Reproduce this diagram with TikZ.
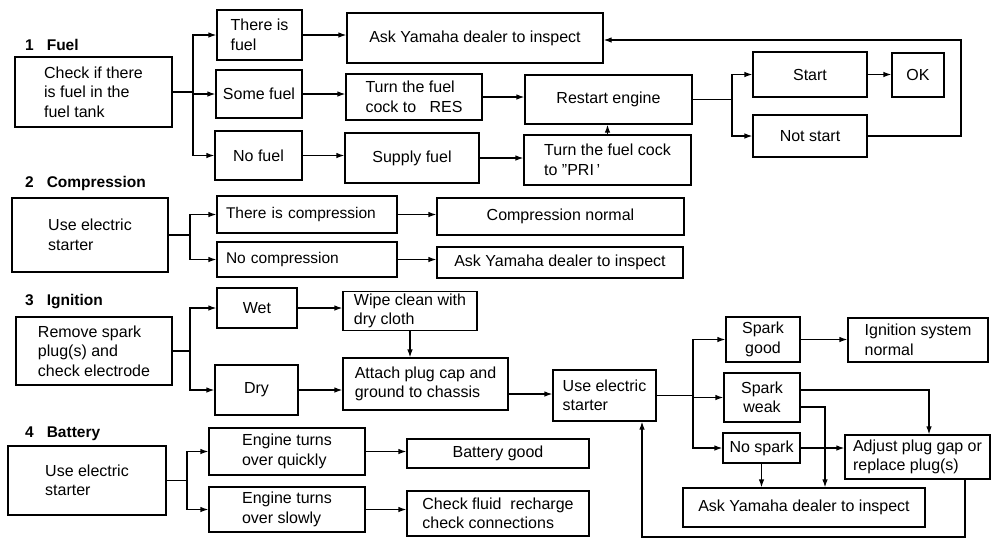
\documentclass[tikz,border=0pt]{standalone}
\usepackage{fontspec}
\setmainfont{Liberation Sans}
\usetikzlibrary{arrows.meta}
\tikzset{
  box/.style={draw, line width=1.2pt, inner sep=2pt, align=center, font=\fontsize{16}{19.5}\selectfont},
  con/.style={line width=1.2pt},
  arr/.style={line width=1.2pt, -{Latex[length=8pt,width=5.5pt]}},
  sec/.style={anchor=base west, inner sep=0pt, font=\bfseries\fontsize{15.5}{18}\selectfont},
  lbox/.style={text width=162pt, align=left, font=\fontsize{15.5}{19}\selectfont},
}
\newcommand\bx[7]{\node[box, minimum width={#4-#2}, minimum height={#5-#3}, #6] (#1) at ({(#2+#4)/2},{(#3+#5)/2}) {#7};}
\begin{document}
\begin{tikzpicture}[x=1pt,y=-1pt]
\useasboundingbox[fill=white] (0,0) rectangle (1000,542);

% section labels
\node[sec] (l1) at (25,50) {1\hspace{13pt}Fuel};
\node[sec] (l2) at (25,187) {2\hspace{13pt}Compression};
\node[sec] (l3) at (25,305) {3\hspace{13pt}Ignition};
\node[sec] (l4) at (25,437) {4\hspace{13pt}Battery};

% 1 Fuel
\bx{fuel}{15}{57}{172}{127}{align=left}{Check if there\\is fuel in the\\fuel tank}
\bx{thereis}{217}{10}{302}{60}{align=left}{There is\\fuel}
\bx{some}{216}{70}{302}{118}{}{Some fuel}
\bx{nofuel}{215}{131}{302}{180}{}{No fuel}
\bx{ask1}{347}{13}{603}{63}{}{Ask Yamaha dealer to inspect}
\bx{res}{346}{74}{482}{120}{align=left}{Turn the fuel\\cock to \ \ RES}
\bx{restart}{525}{75}{692}{124}{}{Restart engine}
\bx{supply}{345}{133}{479}{183}{}{Supply fuel}
\bx{pri}{524}{135}{691}{185}{align=left}{Turn the fuel cock\\to ''PRI\,'}
\bx{start}{753}{52}{867}{97}{}{Start}
\bx{ok}{892}{53}{944}{97}{}{OK}
\bx{notstart}{753}{115}{867}{157}{}{Not start}

\coordinate (j1) at (193,92);
\draw[con] (fuel.east) -- (j1);
\draw[arr] (j1) |- (thereis.west);
\draw[arr] (j1) |- (some.west);
\draw[arr] (j1) |- (nofuel.west);
\draw[arr] (thereis.east) -- (thereis.east -| ask1.west);
\draw[arr] (some.east) -- (some.east -| res.west);
\draw[arr] (nofuel.east) -- (nofuel.east -| supply.west);
\draw[arr] (res.east) -- (res.east -| restart.west);
\draw[arr] (supply.east) -- (supply.east -| pri.west);
\draw[arr] (pri.north) -- (pri.north |- restart.south);
\coordinate (j2) at (732,99.5);
\draw[con] (restart.east) -- (j2);
\draw[arr] (j2) |- (start.west);
\draw[arr] (j2) |- (notstart.west);
\draw[arr] (start.east) -- (start.east -| ok.west);
\coordinate (r1) at (961,40);
\draw[arr] (notstart.east) -| (r1) -- (r1 -| ask1.east);

% 2 Compression
\bx{comp}{12}{198}{168}{272}{align=left}{Use electric\\starter}
\bx{thereisc}{217}{196}{397}{233}{lbox}{There is compression}
\bx{nocomp}{217}{242}{397}{277}{lbox}{No compression}
\bx{compnormal}{437}{198}{684}{235}{}{Compression normal}
\bx{ask2}{437}{247}{683}{278}{}{Ask Yamaha dealer to inspect}
\coordinate (j3) at (190,235);
\draw[con] (comp.east) -- (j3);
\draw[arr] (j3) |- (thereisc.west);
\draw[arr] (j3) |- (nocomp.west);
\draw[arr] (thereisc.east) -- (thereisc.east -| compnormal.west);
\draw[arr] (nocomp.east) -- (nocomp.east -| ask2.west);

% 3 Ignition
\bx{ign}{12}{317}{168}{385}{align=left, xshift=4pt}{Remove spark\\plug(s) and\\check electrode}
\bx{wet}{217}{288}{297}{328}{}{Wet}
\bx{dry}{215}{365}{298}{415}{}{Dry}
\bx{wipe}{343}{292}{477}{330}{align=left}{Wipe clean with\\dry cloth}
\bx{attach}{343}{358}{508}{410}{align=left}{Attach plug cap and\\ground to chassis}
\bx{use3}{553}{370}{656}{421}{align=left}{Use electric\\starter}
\bx{sgood}{726}{317}{800}{362}{}{Spark\\good}
\bx{ignnormal}{848}{318}{988}{362}{align=left}{Ignition system\\normal}
\bx{sweak}{724}{373}{800}{422}{}{Spark\\weak}
\bx{nospark}{723}{433}{800}{463}{}{No spark}
\bx{adjust}{845}{435}{990}{479}{align=left}{Adjust plug gap or\\replace plug(s)}
\bx{ask3}{683}{488}{925}{527}{}{Ask Yamaha dealer to inspect}

\coordinate (j4) at (190,351);
\draw[con] (ign.east) -- (j4);
\draw[arr] (j4) |- (wet.west);
\draw[arr] (j4) |- (dry.west);
\draw[arr] (wet.east) -- (wet.east -| wipe.west);
\draw[arr] (dry.east) -- (dry.east -| attach.west);
\draw[arr] (wipe.south) -- (wipe.south |- attach.north);
\draw[arr] ([yshift=-10pt]attach.east) -- ([yshift=-10pt]attach.east -| use3.west);
\coordinate (j5) at (693,395.5);
\draw[con] (use3.east) -- (j5);
\draw[arr] (j5) |- (sgood.west);
\draw[arr] (j5) |- (sweak.west);
\draw[arr] (j5) |- (nospark.west);
\draw[arr] (sgood.east) -- (sgood.east -| ignnormal.west);
\coordinate (c1) at (929,390);
\draw[arr] (sweak.east |- c1) -| (c1 |- adjust.north);
\coordinate (c2) at (825,407);
\draw[arr] (sweak.east |- c2) -| (c2 |- ask3.north);
\draw[arr] (nospark.east) -- (nospark.east -| adjust.west);
\draw[arr] (nospark.south) -- (nospark.south |- ask3.north);
\coordinate (c3) at (965,537);
\coordinate (c4) at (642,537);
\draw[arr] (adjust.south -| c3) -- (c3) -- (c4) -- (c4 |- use3.south);

% 4 Battery
\bx{bat}{8}{446}{166}{515}{align=left}{Use electric\\starter}
\bx{quick}{209}{428}{365}{475}{align=left}{Engine turns\\over quickly}
\bx{slow}{209}{487}{365}{532}{align=left}{Engine turns\\over slowly}
\bx{batgood}{407}{439}{589}{468}{}{Battery good}
\bx{fluid}{407}{491}{589}{536}{align=left}{Check fluid \ recharge\\check connections}
\coordinate (j6) at (187,480.5);
\draw[con] (bat.east) -- (j6);
\draw[arr] (j6) |- (quick.west);
\draw[arr] (j6) |- (slow.west);
\draw[arr] (quick.east) -- (quick.east -| batgood.west);
\draw[arr] (slow.east) -- (slow.east -| fluid.west);
\end{tikzpicture}
\end{document}
